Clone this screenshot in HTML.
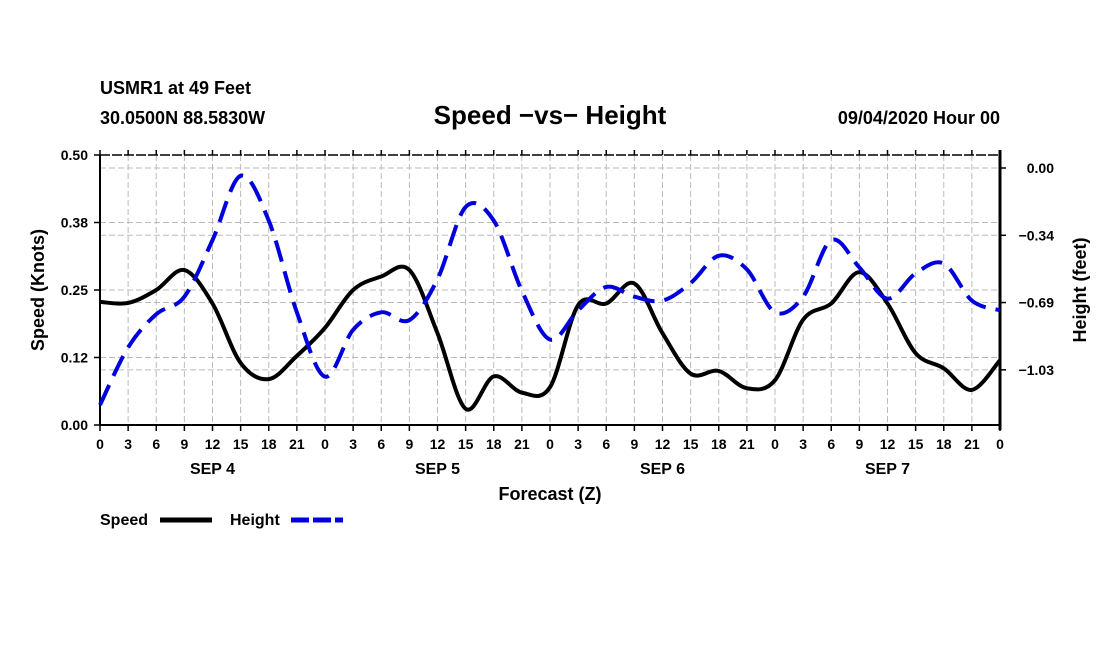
<!DOCTYPE html>
<html><head><meta charset="utf-8"><style>
body{margin:0;background:#fff}
svg text{font-family:"Liberation Sans",Arial,sans-serif;font-weight:bold}
</style></head><body>
<svg id="chart" width="1100" height="650" xmlns="http://www.w3.org/2000/svg">
<g id="grid"></g>
<g id="axes"></g>
<g id="series"></g>
<text x="100" y="94" font-size="18">USMR1 at 49 Feet</text>
<text x="100" y="124" font-size="18">30.0500N 88.5830W</text>
<text x="550" y="124" font-size="26" text-anchor="middle">Speed −vs− Height</text>
<text x="1000" y="124" font-size="18" text-anchor="end">09/04/2020 Hour 00</text>
<text x="550" y="500" font-size="18" text-anchor="middle">Forecast (Z)</text>
<text transform="translate(44,290) rotate(-90)" font-size="18" text-anchor="middle">Speed (Knots)</text>
<text transform="translate(1086,290) rotate(-90)" font-size="18" text-anchor="middle">Height (feet)</text>
<g>
<text x="100" y="525" font-size="16">Speed</text>
<line x1="160" y1="520" x2="212" y2="520" stroke="#000" stroke-width="5"/>
<text x="230" y="525" font-size="16">Height</text>
<line x1="291" y1="520" x2="343" y2="520" stroke="#0000dd" stroke-width="5" stroke-dasharray="18,4"/>
</g>
</svg>
<script>
const hours=[0,3,6,9,12,15,18,21,24,27,30,33,36,39,42,45,48,51,54,57,60,63,66,69,72,75,78,81,84,87,90,93,96];
const speed=[0.228,0.226,0.25,0.287,0.225,0.115,0.085,0.128,0.18,0.25,0.275,0.287,0.17,0.03,0.09,0.06,0.07,0.222,0.225,0.262,0.17,0.095,0.10,0.068,0.083,0.195,0.225,0.283,0.225,0.133,0.105,0.065,0.12];
const height=[-1.215,-0.92,-0.75,-0.66,-0.37,-0.04,-0.27,-0.74,-1.07,-0.83,-0.74,-0.78,-0.57,-0.2,-0.27,-0.63,-0.88,-0.73,-0.61,-0.66,-0.68,-0.59,-0.45,-0.52,-0.74,-0.66,-0.37,-0.51,-0.67,-0.54,-0.49,-0.68,-0.73];
const speedTicks=[0,0.125,0.25,0.375,0.5];
const speedTickLabels=["0.00","0.12","0.25","0.38","0.50"];
const heightTicks=[0,-0.345,-0.69,-1.035];
const heightTickLabels=["0.00","−0.34","−0.69","−1.03"];
const dayLabels=["SEP 4","SEP 5","SEP 6","SEP 7"];

const X0=100,X1=1000,Y0=425,Y1=155;
const xs=h=>X0+(X1-X0)*h/96;
const ys=v=>Y0-(Y0-Y1)*v/0.5;
const yh=v=>168-195*v;
const NS="http://www.w3.org/2000/svg";
function mk(tag,attrs,parent){const e=document.createElementNS(NS,tag);for(const k in attrs)e.setAttribute(k,attrs[k]);parent.appendChild(e);return e;}
const grid=document.getElementById('grid'),axes=document.getElementById('axes'),series=document.getElementById('series');
const gs={stroke:"#bbb","stroke-width":1,"stroke-dasharray":"6,3"};
for(let h=3;h<96;h+=3){const l=mk('line',Object.assign({x1:xs(h),x2:xs(h),y1:Y1,y2:Y0},gs),grid);

}
speedTicks.forEach((v,i)=>{
 if(i>0&&i<4){const l=mk('line',Object.assign({x1:X0,x2:X1,y1:ys(v),y2:ys(v)},gs),grid);
 
 }
 const t=mk('line',{x1:X0-6,x2:X0,y1:ys(v),y2:ys(v),stroke:"#000","stroke-width":1.5},axes);
 
 
 const tx=mk('text',{x:X0-12,y:ys(v)+5,"font-size":14,"text-anchor":"end"},axes);tx.textContent=speedTickLabels[i];
 
 
});
heightTicks.forEach((v,i)=>{
 const l=mk('line',Object.assign({x1:X0,x2:X1,y1:yh(v),y2:yh(v)},gs),grid);
 
 
 const t=mk('line',{x1:X1,x2:X1+6,y1:yh(v),y2:yh(v),stroke:"#000","stroke-width":1.5},axes);
 
 
 const tx=mk('text',{x:1054,y:yh(v)+5,"font-size":14,"text-anchor":"end"},axes);tx.textContent=heightTickLabels[i];
 
 
});
for(let h=0;h<=96;h+=3){
 const t=mk('line',{x1:xs(h),x2:xs(h),y1:Y0,y2:Y0+6,stroke:"#000","stroke-width":1.5},axes);
 
 
 const t2=mk('line',{x1:xs(h),x2:xs(h),y1:Y1-5,y2:Y1,stroke:"#000","stroke-width":1.5},axes);
 
 
 const tx=mk('text',{x:xs(h),y:449,"font-size":14,"text-anchor":"middle"},axes);tx.textContent=String(h%24);
 
 
}
dayLabels.forEach((d,i)=>{const tx=mk('text',{x:xs(12+24*i),y:474,"font-size":16,"text-anchor":"middle"},axes);tx.textContent=d;
 
 });
const b1=mk('line',{x1:X0,x2:X1,y1:Y0,y2:Y0,stroke:"#000","stroke-width":2},axes);


const b2=mk('line',{x1:X0,x2:X1,y1:Y1,y2:Y1,stroke:"#000","stroke-width":1.5,"stroke-dasharray":"10,2"},axes);


const b3=mk('line',{x1:X0,x2:X0,y1:Y1,y2:Y0,stroke:"#000","stroke-width":2},axes);


const b4=mk('line',{x1:X1,x2:X1,y1:Y1-5,y2:Y0+5,stroke:"#000","stroke-width":3},axes);


function smooth(pts){let d=`M${pts[0][0]},${pts[0][1]}`;
 for(let i=0;i<pts.length-1;i++){const p0=pts[i-1]||pts[i],p1=pts[i],p2=pts[i+1],p3=pts[i+2]||p2;
 d+=` C${p1[0]+(p2[0]-p0[0])/6},${p1[1]+(p2[1]-p0[1])/6} ${p2[0]-(p3[0]-p1[0])/6},${p2[1]-(p3[1]-p1[1])/6} ${p2[0]},${p2[1]}`;}
 return d;}
const sp=mk('path',{d:smooth(hours.map((h,i)=>[xs(h),ys(speed[i])])),fill:"none",stroke:"#000","stroke-width":4,"stroke-linejoin":"round"},series);


const hp=mk('path',{d:smooth(hours.map((h,i)=>[xs(h),yh(height[i])])),fill:"none",stroke:"#0000dd","stroke-width":4,"stroke-dasharray":"22,10"},series);


</script>
</body></html>
